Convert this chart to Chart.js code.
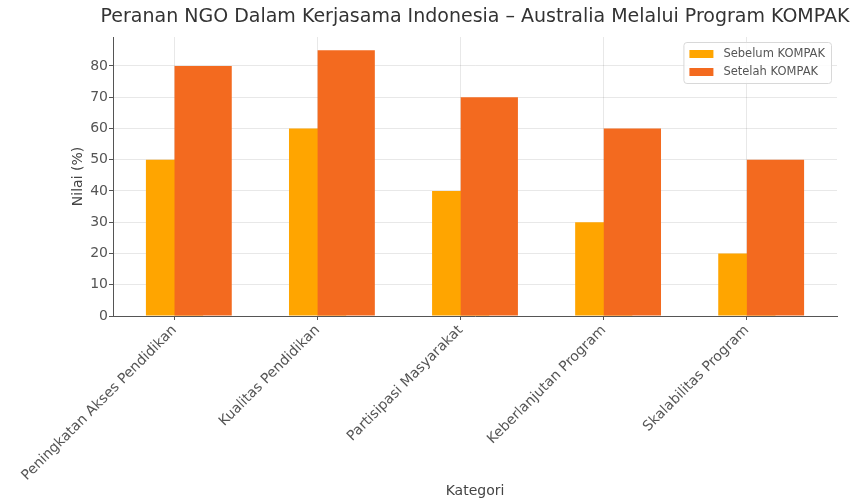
<!DOCTYPE html>
<html>
<head>
<meta charset="utf-8">
<script src="https://cdn.jsdelivr.net/npm/chart.js@4.4.1/dist/chart.umd.min.js"></script>
<style>
  html,body{margin:0;padding:0;background:#fff;}
  #wrap{width:852px;height:502px;}
</style>
</head>
<body>
<div id="wrap"><canvas id="chart" width="852" height="502"></canvas></div>
<script>
const categories = ["Peningkatan Akses Pendidikan","Kualitas Pendidikan","Partisipasi Masyarakat","Keberlanjutan Program","Skalabilitas Program"];
const sebelum = [50, 60, 40, 30, 20];
const setelah = [80, 85, 70, 60, 50];
const seriesNames = ["Sebelum KOMPAK","Setelah KOMPAK"];
const yTicks = [0,10,20,30,40,50,60,70,80];
const chartTitle = "Peranan NGO Dalam Kerjasama Indonesia \u2013 Australia Melalui Program KOMPAK";

const font = "DejaVu Sans";
const shift = 0.2; // second bar sits 0.2 to the right, overlapping the first

// title centred over the plot area, not squeezed to its width
const plotTitle = {
  id: "plotTitle",
  afterDraw(chart){
    const {ctx, chartArea} = chart;
    ctx.save();
    ctx.font = "19px '" + font + "'";
    ctx.fillStyle = "#333";
    ctx.textAlign = "center";
    ctx.textBaseline = "middle";
    ctx.fillText(chartTitle, (chartArea.left + chartArea.right)/2, 17);
    ctx.restore();
  }
};

const legendBox = {
  id: "legendBox",
  afterDraw(chart){
    const {ctx, chartArea} = chart;
    const ds = chart.data.datasets;
    ctx.save();
    ctx.font = "11.5px '" + font + "'";
    const tw = Math.max(...ds.map(d=>ctx.measureText(d.label).width));
    const w = 6 + 24 + 10 + tw + 6, rowH = 18, h = 5 + rowH*ds.length;
    const x = chartArea.right - 6 - w, y = chartArea.top + 5;
    ctx.fillStyle = "rgba(255,255,255,0.85)";
    ctx.strokeStyle = "#d8d8d8";
    ctx.lineWidth = 1;
    ctx.beginPath();
    ctx.roundRect(x+0.5, y+0.5, w, h, 3);
    ctx.fill(); ctx.stroke();
    ds.forEach((d,i)=>{
      const cy = y + 3 + rowH*i + rowH/2;
      ctx.fillStyle = d.backgroundColor;
      ctx.fillRect(x+6, cy-4, 24, 8);
      ctx.fillStyle = "#555";
      ctx.textBaseline = "middle";
      ctx.fillText(d.label, x+40, cy);
    });
    ctx.restore();
  }
};

new Chart(document.getElementById("chart"), {
  type: "bar",
  data: {
    datasets: [
      {label: seriesNames[0], data: sebelum.map((v,i)=>({x:i, y:v})), backgroundColor: "#FFA500", order: 1},
      {label: seriesNames[1], data: setelah.map((v,i)=>({x:i+shift, y:v})), backgroundColor: "#F36A1F", order: 0}
    ]
  },
  options: {
    responsive: false,
    animation: false,
    grouped: false,
    barPercentage: 2,
    categoryPercentage: 1,
    layout: {padding: {left: 0, right: 15, top: 37, bottom: 0}},
    plugins: {
      legend: {display: false},
      tooltip: {enabled: false},
      title: {display: false}
    },
    scales: {
      x: {
        type: "linear",
        min: -0.43, max: 4.63,
        offset: false,
        afterBuildTicks: s => { s.ticks = categories.map((c,i)=>({value:i})); },
        afterFit: s => { s.height = 186; },
        ticks: {
          callback: v => categories[v],
          maxRotation: 45, minRotation: 45,
          autoSkip: false,
          color: "#555",
          padding: 2,
          font: {family: font, size: 14}
        },
        grid: {offset: false, color: "rgba(0,0,0,0.09)", tickLength: 4, tickColor: "#555"},
        border: {color: "#555", width: 1},
        title: {display: true, text: "Kategori", color: "#444", font: {family: font, size: 14}, padding: {top: 0, bottom: 2}}
      },
      y: {
        min: 0, max: 89.25,
        afterBuildTicks: s => { s.ticks = yTicks.map(v=>({value:v})); },
        afterFit: s => { s.width = 113; },
        ticks: {color: "#555", padding: 1, font: {family: font, size: 14}},
        grid: {color: "rgba(0,0,0,0.09)", tickLength: 4, tickColor: "#555"},
        border: {color: "#555", width: 1},
        title: {display: true, text: "Nilai (%)", color: "#444", font: {family: font, size: 14}, padding: {top: 70, bottom: 0}}
      }
    }
  },
  plugins: [plotTitle, legendBox]
});
</script>
</body>
</html>
